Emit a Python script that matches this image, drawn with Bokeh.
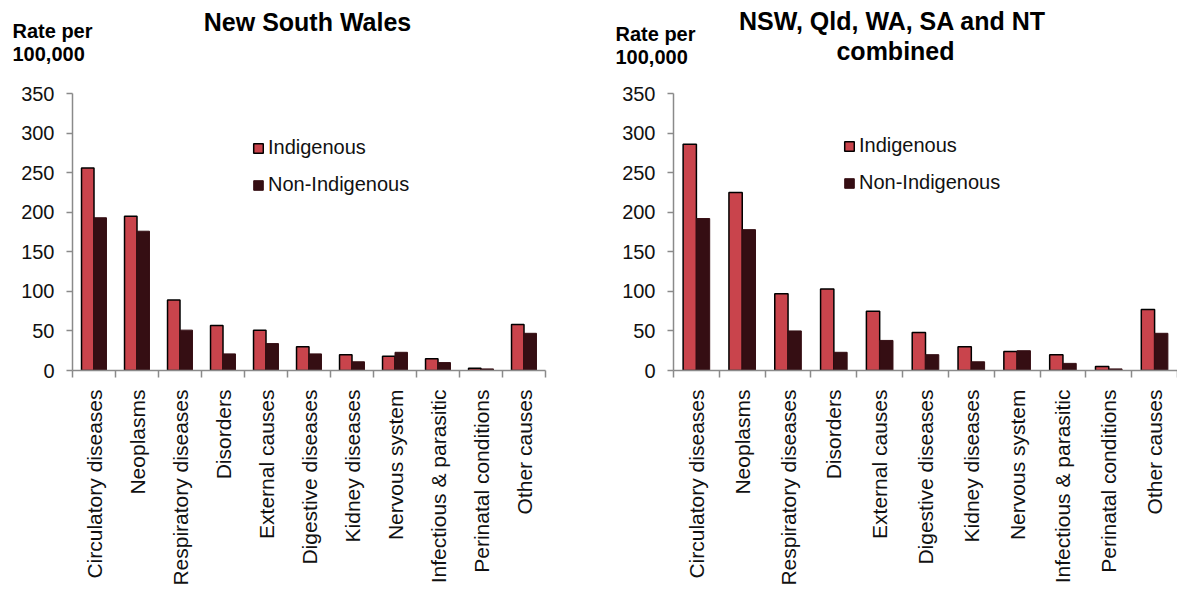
from math import pi
from bokeh.plotting import figure
from bokeh.models import (Range1d, LinearAxis, FixedTicker,
                          ColumnDataSource, Legend, LegendItem, Label)
from bokeh.transform import dodge
from bokeh.layouts import row, column
from bokeh.embed import file_html
from bokeh.resources import INLINE

categories = ["Circulatory diseases", "Neoplasms", "Respiratory diseases", "Disorders",
              "External causes", "Digestive diseases", "Kidney diseases", "Nervous system",
              "Infectious & parasitic", "Perinatal conditions", "Other causes"]
nsw_indigenous = [256, 195, 89, 57, 51, 30, 20, 18, 15, 3, 58]
nsw_non_indigenous = [193, 176, 51, 21, 34, 21, 11, 23, 10, 2, 47]
comb_indigenous = [286, 225, 97, 103, 75, 48, 30, 24, 20, 5, 77]
comb_non_indigenous = [192, 178, 50, 23, 38, 20, 11, 25, 9, 2, 47]
y_ticks = [0, 50, 100, 150, 200, 250, 300, 350]
series_names = ["Indigenous", "Non-Indigenous"]

FONT = "Liberation Sans"
RED = "#C9444C"
DARK = "#350E13"
AXIS = "#8A8A8A"
HEADER_H = 81
TOTAL_W = 1177

n = len(categories)
centers = [i + 0.5 for i in range(n)]


def no_align(fig):
    if "frame_align" in fig.properties():
        fig.frame_align = False


def make_chart(width, b_left, b_right, legend_loc, ind, non):
    p = figure(width=width, height=507, output_backend="svg", toolbar_location=None,
               x_range=Range1d(0, n), y_range=Range1d(0, 350),
               min_border_left=b_left, min_border_right=b_right,
               min_border_top=12, min_border_bottom=214)
    no_align(p)
    p.outline_line_color = None
    p.xgrid.visible = False
    p.ygrid.visible = False
    p.background_fill_color = "white"
    p.border_fill_color = "white"

    ya = p.yaxis[0]
    ya.ticker = FixedTicker(ticks=y_ticks)
    ya.axis_line_color = AXIS
    ya.axis_line_width = 1.5
    ya.major_tick_line_color = AXIS
    ya.major_tick_line_width = 1.5
    ya.major_tick_out = 6
    ya.major_tick_in = 0
    ya.minor_tick_line_color = None
    ya.major_label_text_font = FONT
    ya.major_label_text_font_size = "20px"
    ya.major_label_text_color = "#111111"
    ya.major_label_standoff = 12

    sep = p.xaxis[0]
    sep.ticker = FixedTicker(ticks=list(range(n + 1)))
    sep.axis_line_color = AXIS
    sep.axis_line_width = 1.5
    sep.major_tick_line_color = AXIS
    sep.major_tick_line_width = 1.5
    sep.major_tick_out = 7
    sep.major_tick_in = 0
    sep.minor_tick_line_color = None
    sep.major_label_text_font_size = "0px"
    sep.major_label_standoff = 0
    sep.major_label_overrides = {i: "" for i in range(n + 1)}

    ca = LinearAxis(ticker=FixedTicker(ticks=centers))
    ca.major_label_overrides = {c: name for c, name in zip(centers, categories)}
    ca.axis_line_color = None
    ca.major_tick_line_color = None
    ca.minor_tick_line_color = None
    ca.major_label_orientation = pi / 2
    ca.major_label_text_font = FONT
    ca.major_label_text_font_size = "21px"
    ca.major_label_text_color = "#111111"
    ca.major_label_standoff = 6
    p.add_layout(ca, "below")

    src = ColumnDataSource(dict(pos=centers, ind=ind, non=non))
    r1 = p.vbar(x=dodge("pos", -0.145), top="ind", width=0.29, source=src,
                fill_color=RED, line_color="black", line_width=1.5)
    r2 = p.vbar(x=dodge("pos", 0.145), top="non", width=0.29, source=src,
                fill_color=DARK, line_color=DARK, line_width=1)

    legend = Legend(items=[LegendItem(label=series_names[0], renderers=[r1]),
                           LegendItem(label=series_names[1], renderers=[r2])],
                    location=legend_loc)
    legend.background_fill_alpha = 0
    legend.border_line_alpha = 0
    legend.label_text_font = FONT
    legend.label_text_font_size = "20px"
    legend.label_text_color = "#111111"
    legend.glyph_width = 12
    legend.glyph_height = 12
    legend.label_standoff = 4
    legend.spacing = 14
    legend.padding = 0
    legend.margin = 0
    p.add_layout(legend, "center")
    return p


# header strip across both charts; its data space is page pixels (y grows downward)
header = figure(width=TOTAL_W, height=HEADER_H, output_backend="svg", toolbar_location=None,
                x_range=Range1d(0, TOTAL_W), y_range=Range1d(HEADER_H, 0),
                x_axis_location=None, y_axis_location=None,
                min_border_left=0, min_border_right=0, min_border_top=0, min_border_bottom=0)
no_align(header)
header.outline_line_color = None
header.xgrid.visible = False
header.ygrid.visible = False
header.background_fill_color = "white"
header.border_fill_color = "white"

header_texts = [("New South Wales", 307, 21, "25px", "center"),
                ("Rate per", 12, 30, "20px", "left"),
                ("100,000", 12, 53, "20px", "left"),
                ("NSW, Qld, WA, SA and NT", 892, 20, "25px", "center"),
                ("combined", 895, 50, "25px", "center"),
                ("Rate per", 615, 33, "20px", "left"),
                ("100,000", 615, 56, "20px", "left")]
for text, x, y, size, align in header_texts:
    header.add_layout(Label(x=x, y=y, text=text, text_font=FONT, text_font_size=size,
                            text_font_style="bold", text_align=align,
                            text_baseline="alphabetic", text_color="black"))

p1 = make_chart(590, 72, 45, (180, 174), nsw_indigenous, nsw_non_indigenous)
p2 = make_chart(587, 83, 0, (170, 176), comb_indigenous, comb_non_indigenous)

layout = column(header, row(p1, p2, spacing=0), spacing=0)
open("out.html", "w").write(file_html(layout, INLINE))
